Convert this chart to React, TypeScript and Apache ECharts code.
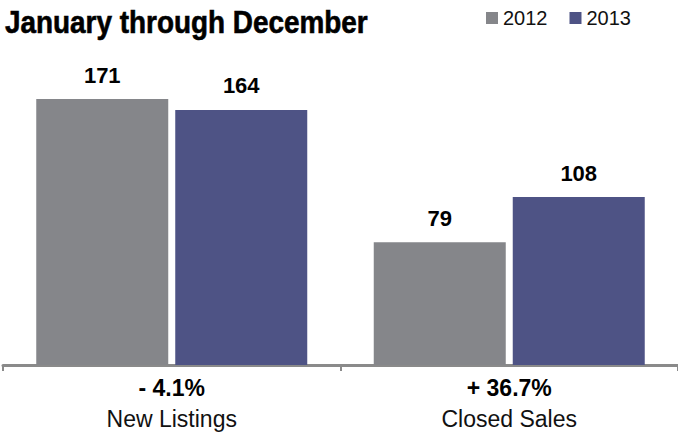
import React, { useEffect, useRef } from "react";
import * as echarts from "echarts";

const titleText = "January through December";
const categories = ["New Listings", "Closed Sales"];
const changes = ["- 4.1%", "+ 36.7%"];
const seriesNames = ["2012", "2013"];
const values2012 = [171, 79];
const values2013 = [164, 108];

const FONT = "'Liberation Sans', Arial, Helvetica, sans-serif";
const GRAY = "#85868a";
const NAVY = "#4e5385";
const AXIS = "#8a8a8a";

export default function App() {
  const ref = useRef<HTMLDivElement>(null);

  useEffect(() => {
    document.body.style.margin = "0";
    if (!ref.current) return;
    const chart = echarts.init(ref.current, undefined, { renderer: "svg" });
    const barLabel = {
      show: true,
      position: "top",
      distance: 13,
      color: "#000",
      fontFamily: FONT,
      fontWeight: "bold",
      fontSize: 22,
    };
    chart.setOption({
      animation: false,
      graphic: [
        {
          type: "text",
          x: 5,
          y: 6,
          scaleX: 0.9,
          silent: true,
          style: {
            text: titleText,
            x: 0,
            y: 0,
            font: "bold 31px 'Liberation Sans', Arial, sans-serif",
            fill: "#000",
            stroke: "#000",
            lineWidth: 0.6,
            align: "left",
            verticalAlign: "top",
          },
        },
      ],
      legend: {
        data: seriesNames,
        left: 486,
        top: 8,
        padding: 0,
        icon: "rect",
        itemWidth: 12,
        itemHeight: 12,
        itemGap: 22,
        selectedMode: false,
        textStyle: { fontFamily: FONT, fontSize: 20, color: "#111" },
      },
      grid: { left: 3, right: 0, top: 54, bottom: 69, containLabel: false },
      xAxis: {
        type: "category",
        data: categories,
        offset: 1.5,
        axisLine: { show: true, lineStyle: { color: AXIS, width: 3 } },
        axisTick: { show: true, length: 6, lineStyle: { color: AXIS, width: 2 } },
        axisLabel: {
          interval: 0,
          margin: 6,
          formatter: (value: string, index: number) =>
            `{pct|${changes[index]}}\n{name|${value}}`,
          rich: {
            pct: {
              fontFamily: FONT,
              fontWeight: "bold",
              fontSize: 23,
              lineHeight: 31,
              color: "#000",
            },
            name: {
              fontFamily: FONT,
              fontSize: 23,
              lineHeight: 31,
              color: "#111",
            },
          },
        },
      },
      yAxis: { type: "value", min: 0, max: 200, show: false, splitLine: { show: false } },
      series: [
        {
          name: seriesNames[0],
          type: "bar",
          data: values2012,
          barWidth: 132,
          barGap: "5.3%",
          itemStyle: { color: GRAY },
          label: barLabel,
        },
        {
          name: seriesNames[1],
          type: "bar",
          data: values2013,
          barWidth: 132,
          itemStyle: { color: NAVY },
          label: barLabel,
        },
      ],
    });
    return () => chart.dispose();
  }, []);

  return <div ref={ref} style={{ width: 678, height: 434 }} />;
}
